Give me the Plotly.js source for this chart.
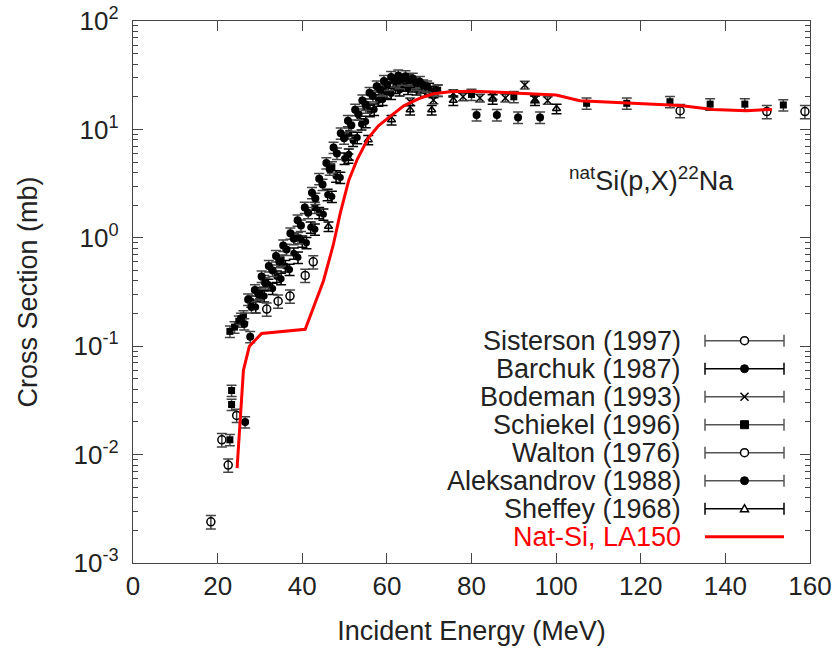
<!DOCTYPE html>
<html><head><meta charset="utf-8">
<script src="https://cdn.plot.ly/plotly-3.0.1.min.js"></script>
<style>html,body{margin:0;padding:0;background:#fff}</style>
</head><body><div id="chart" style="width:834px;height:650px"></div>
<script>
// ---------------- data ----------------
const sistersonE = [18.4, 21.0, 22.5, 24.5, 129.3, 149.8, 158.8];
const sistersonS = [0.0024, 0.0137, 0.008, 0.023, 14.9, 14.6, 14.6];

const barchukE = [28, 29, 30, 31, 32, 33, 34, 35, 36, 37, 38, 39, 40, 41, 42, 43, 44, 45, 46, 47, 48, 49, 50,
                  51, 52, 53, 54, 55, 56, 57, 58, 59, 60, 61, 62, 63, 64, 65, 66, 67, 68, 69, 70, 71, 72];
const barchukS = [0.26, 0.23, 0.31, 0.29, 0.37, 0.34, 0.44, 0.42, 0.55, 0.51, 0.72, 0.66, 0.93, 0.90, 1.25, 1.2, 1.7, 1.65, 2.5, 2.4, 3.7, 3.6, 5.4,
                  5.9, 7.9, 8.4, 11.2, 11.8, 14.9, 15.3, 18.6, 18.9, 22.0, 21.4, 24.3, 23.1, 25.5, 23.9, 25.2, 23.6, 24.6, 22.9, 23.8, 22.2, 22.9];

const bodemanE = [65.5, 71.0, 75.7, 78.0, 82.0, 85.0, 88.0, 92.6, 95.0, 98.0];
const bodemanS = [18.0, 18.7, 21.5, 20.0, 19.5, 20.5, 19.5, 25.7, 19.0, 18.5];

const schiekelE = [22.9, 23.3, 23.3, 22.9, 24.0, 25.0, 26.1, 31, 35, 39, 43, 47, 51, 55, 59, 63, 67, 72, 80, 90, 107.2, 116.7, 126.9, 136.4, 144.6, 153.7];
const schiekelS = [0.0137, 0.029, 0.039, 0.137, 0.15, 0.17, 0.19, 0.40, 0.62, 1.0, 1.9, 4.5, 9.2, 16, 23, 27, 26, 23, 21, 20, 17.4, 17.4, 18.0, 17.1, 17.1, 16.8];

const waltonE = [31.6, 34.3, 37.1, 40.7, 42.6];
const waltonS = [0.22, 0.26, 0.29, 0.45, 0.60];

const aleksandrovE = [26.5, 27.7, 25.5, 26.3, 27.2, 28.0, 28.8, 29.7, 30.4, 31.3, 32.1, 33.0, 33.8, 34.6, 35.5, 36.3, 37.2, 38.0,
                      38.9, 39.7, 40.6, 41.4, 42.3, 43.1, 44.0, 44.8, 45.7, 46.5, 47.4, 48.2, 49.1, 49.9, 50.8, 51.6, 52.5,
                      53.3, 54.2, 55.0, 55.9, 56.7, 57.6, 58.4, 59.3, 60.1, 61.0, 61.8, 62.7, 63.5, 64.4, 65.2, 66.1,
                      66.9, 67.8, 68.6, 69.5, 81.2, 86.0, 91.0, 96.2];
const aleksandrovS = [0.020, 0.122, 0.18, 0.16, 0.27, 0.23, 0.33, 0.30, 0.44, 0.38, 0.55, 0.50, 0.68, 0.60, 0.85, 0.78, 1.1, 0.98,
                      1.45, 1.3, 1.9, 1.7, 2.6, 2.3, 3.5, 3.1, 4.9, 4.3, 6.8, 6.0, 9.2, 8.3, 12.0, 10.9, 15.2,
                      13.8, 18.5, 17.0, 21.8, 20.3, 25.0, 23.4, 28.0, 26.0, 30.5, 28.0, 31.5, 29.0, 31.0, 28.5, 29.5,
                      27.0, 27.5, 25.5, 25.0, 13.6, 13.6, 12.9, 12.9];

const sheffeyE = [46.2, 50.9, 55.6, 61.1, 65.5, 70.6, 75.7, 85.0, 95.0, 100.1];
const sheffeyS = [1.27, 5.4, 8.0, 12.2, 15.1, 15.1, 18.5, 19.0, 18.5, 15.5];

const la150E = [24.6, 26.1, 27.5, 30.4, 40.7, 43.0, 45.0, 47.3, 49.0, 51.0, 53.0, 55.6, 58.0, 60.7, 64.0, 67.8, 71.0, 74.9, 80.0, 86.7, 92.3, 100.0, 105.6, 117.5, 129.3, 137.1, 145.0, 151.0];
const la150S = [0.0075, 0.060, 0.10, 0.131, 0.143, 0.25, 0.40, 0.85, 1.7, 3.4, 5.3, 8.3, 10.8, 13.1, 16.5, 19.4, 21.3, 22.3, 22.5, 22.0, 21.5, 20.8, 18.4, 17.4, 16.6, 15.3, 14.9, 15.3];

const xTickVals = [0, 20, 40, 60, 80, 100, 120, 140, 160];
const yTickVals = [0.001, 0.01, 0.1, 1, 10, 100];
const yTickText = ['10<sup>-3</sup>', '10<sup>-2</sup>', '10<sup>-1</sup>', '10<sup>0</sup>', '10<sup>1</sup>', '10<sup>2</sup>'];

const legendLabels = ['Sisterson (1997)', 'Barchuk (1987)', 'Bodeman (1993)', 'Schiekel (1996)', 'Walton (1976)', 'Aleksandrov (1988)', 'Sheffey (1968)', 'Nat-Si, LA150'];
const legendSymbols = ['circle-open', 'circle', 'x', 'square', 'circle-open', 'circle', 'triangle-open', 'line'];
const legendBarColors = ['#555', '#000', '#555', '#555', '#555', '#555', '#000', '#ff0000'];

const annotationText = '<sup>nat</sup>Si(p,X)<sup>22</sup>Na';

// ---------------- layout geometry ----------------
const W = 834, H = 650;
const M = {l: 133, r: 24, t: 21, b: 87};
const plotW = W - M.l - M.r, plotH = H - M.t - M.b;
const px2paperX = px => (px - M.l) / plotW;
const py2paperY = py => (H - M.b - py) / plotH;

const FONT = 'Liberation Sans, Arial, Helvetica, sans-serif';
const TXT = '#222';

function expTrace(name, E, S, symbol, size, errColor, pct, lineW) {
  return {
    type: 'scatter', mode: 'markers', name: name, x: E, y: S, showlegend: false,
    marker: {symbol: symbol, size: size, color: '#000', line: {color: '#000', width: lineW}},
    error_y: {type: 'percent', value: pct, color: errColor, thickness: 1.5, width: 5}
  };
}

const traces = [
  expTrace('Sisterson (1997)', sistersonE, sistersonS, 'circle-open', 8, '#444', 14, 1.5),
  expTrace('Barchuk (1987)', barchukE, barchukS, 'circle', 7, '#000', 12, 0),
  expTrace('Bodeman (1993)', bodemanE, bodemanS, 'x-thin-open', 7, '#444', 8, 1.5),
  expTrace('Schiekel (1996)', schiekelE, schiekelS, 'square', 7, '#444', 12, 0),
  expTrace('Walton (1976)', waltonE, waltonS, 'circle-open', 8, '#444', 14, 1.5),
  expTrace('Aleksandrov (1988)', aleksandrovE, aleksandrovS, 'circle', 8, '#444', 12, 0),
  expTrace('Sheffey (1968)', sheffeyE, sheffeyS, 'triangle-up-open', 7, '#000', 10, 1.5),
  {type: 'scatter', mode: 'lines', name: 'Nat-Si, LA150', x: la150E, y: la150S, showlegend: false,
   line: {color: '#ff0000', width: 3}}
];

// minor ticks on log axis (2..9 in each decade)
const yMinor = [];
for (let d = -3; d < 2; d++) for (let k = 2; k <= 9; k++) yMinor.push(k * Math.pow(10, d));

// ---------------- hand-drawn legend (text left, sample right) ----------------
const legTextRight = 683, legBar0 = 705, legBar1 = 784, legMark = 744.5;
const legRow0 = 340.7, legRowStep = 28;
const shapes = [], annotations = [];
legendLabels.forEach((lab, i) => {
  const yp = py2paperY(legRow0 + i * legRowStep);
  const isLine = legendSymbols[i] === 'line';
  annotations.push({
    xref: 'paper', yref: 'paper', x: px2paperX(legTextRight), y: yp, xanchor: 'right', yanchor: 'middle',
    text: lab, showarrow: false, font: {family: FONT, size: 27, color: isLine ? '#ff0000' : TXT}
  });
  const x0 = px2paperX(legBar0), x1 = px2paperX(legBar1), xm = px2paperX(legMark);
  shapes.push({type: 'line', xref: 'paper', yref: 'paper', x0: x0, x1: x1, y0: yp, y1: yp,
    line: {color: legendBarColors[i], width: isLine ? 3 : 1.5}});
  if (isLine) return;
  [x0, x1].forEach(xc => shapes.push({type: 'line', xref: 'paper', yref: 'paper', x0: xc, x1: xc,
    ysizemode: 'pixel', yanchor: yp, y0: -6, y1: 6, line: {color: legendBarColors[i], width: 1.5}}));
  const base = {xref: 'paper', yref: 'paper', xsizemode: 'pixel', ysizemode: 'pixel', xanchor: xm, yanchor: yp};
  const s = legendSymbols[i];
  if (s === 'circle-open') shapes.push(Object.assign({type: 'circle', x0: -4, x1: 4, y0: -4, y1: 4, fillcolor: '#fff', line: {color: '#000', width: 1.5}}, base));
  if (s === 'circle') shapes.push(Object.assign({type: 'circle', x0: -4, x1: 4, y0: -4, y1: 4, fillcolor: '#000', line: {color: '#000', width: 1}}, base));
  if (s === 'square') shapes.push(Object.assign({type: 'rect', x0: -4, x1: 4, y0: -4, y1: 4, fillcolor: '#000', line: {color: '#000', width: 1}}, base));
  if (s === 'x') shapes.push(Object.assign({type: 'path', path: 'M-4,-4L4,4M-4,4L4,-4', line: {color: '#000', width: 1.5}}, base));
  if (s === 'triangle-open') shapes.push(Object.assign({type: 'path', path: 'M-4,-3L4,-3L0,4Z', fillcolor: '#fff', line: {color: '#000', width: 1.5}}, base));
});

annotations.push({
  xref: 'paper', yref: 'paper', x: px2paperX(651), y: py2paperY(179), xanchor: 'center', yanchor: 'middle',
  text: annotationText, showarrow: false, font: {family: FONT, size: 27, color: TXT}
});

const axisCommon = {
  showline: true, linecolor: '#444', linewidth: 1.2, mirror: 'ticks', ticks: 'inside',
  tickcolor: '#444', tickwidth: 1.2, showgrid: false, zeroline: false,
  tickfont: {family: FONT, size: 26, color: TXT}
};

const layout = {
  width: W, height: H, margin: M, paper_bgcolor: '#fff', plot_bgcolor: '#fff',
  showlegend: false, font: {family: FONT, color: TXT},
  xaxis: Object.assign({}, axisCommon, {
    range: [0, 160], tickmode: 'array', tickvals: xTickVals, ticklen: 10, ticklabelstandoff: 0,
    title: {text: 'Incident Energy (MeV)', font: {family: FONT, size: 27, color: TXT}, standoff: 20}
  }),
  yaxis: Object.assign({}, axisCommon, {
    type: 'log', range: [-3, 2], tickmode: 'array', tickvals: yTickVals, ticktext: yTickText,
    ticklen: 10, ticklabelstandoff: 8,
    minor: {tickmode: 'array', tickvals: yMinor, ticks: 'inside', ticklen: 5, tickcolor: '#444', tickwidth: 1},
    title: {text: 'Cross Section (mb)', font: {family: FONT, size: 27, color: TXT}, standoff: 28}
  }),
  shapes: shapes, annotations: annotations
};

Plotly.newPlot('chart', traces, layout, {displayModeBar: false, staticPlot: true});
</script></body></html>
